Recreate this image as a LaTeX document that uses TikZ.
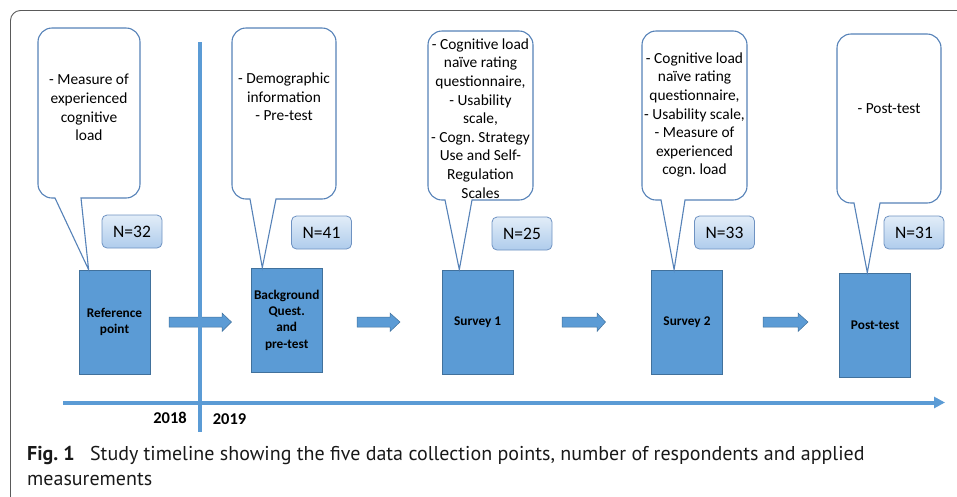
\documentclass[tikz,border=0pt]{standalone}
\usepackage{fontspec}
\setmainfont{Carlito}
\newfontfamily\capfont{PT Sans}
\usetikzlibrary{arrows.meta,calc}
\frenchspacing

\definecolor{lineblue}{HTML}{5B9BD5}
\definecolor{stageedge}{HTML}{41719C}
\definecolor{bubbleedge}{HTML}{5682B8}
\definecolor{countedge}{HTML}{6E92C2}
\definecolor{counttop}{HTML}{E2EDF8}
\definecolor{countbot}{HTML}{AFCCEC}
\definecolor{framegray}{HTML}{5A5A5A}

% speech bubble: body (x1,y1)-(x2,y2), tail base a..b on the lower edge, tail tip
\newcommand\bubble[7]{%
  \draw[bubbleline] (#5,#4) -- #7 -- (#6,#4) [rounded corners=14pt]
    -- (#3,#4) -- (#3,#2) -- (#1,#2) -- (#1,#4) [sharp corners] -- cycle;}
% block arrow between stages: start, head base, tip
\newcommand\blockarrow[3]{%
  \filldraw[fill=lineblue, draw=stageedge, line width=0.5pt]
    (#1,317) -- (#2,317) -- (#2,313) -- (#3,322) -- (#2,331.5) -- (#2,327) -- (#1,327) -- cycle;}

\tikzset{
  bubbleline/.style={draw=bubbleedge, line width=1.1pt, fill=white},
  bubbletext/.style={align=center, inner sep=0pt, font=\fontsize{15.4}{18.6}\selectfont},
  stage/.style={draw=stageedge, line width=0.8pt, fill=lineblue, align=center,
    minimum width=71pt, minimum height=104pt, inner sep=1pt,
    font=\bfseries\fontsize{13.3}{16.3}\selectfont},
  count/.style={draw=countedge, line width=0.8pt, rounded corners=5pt,
    top color=counttop, bottom color=countbot, minimum width=60pt, minimum height=33pt,
    inner sep=0pt, font=\fontsize{17.5}{20}\selectfont},
  axisline/.style={draw=lineblue, line width=4pt},
  year/.style={font=\bfseries\fontsize{16.5}{18}\selectfont, inner sep=0pt},
}

\begin{document}
\begin{tikzpicture}[x=1pt, y=-1pt]
\useasboundingbox (0,0) rectangle (957,496);

% frame
\draw[framegray, line width=0.9pt, rounded corners=10pt] (10.5,500) -- (10.5,10.5) -- (960,10.5);

% stages
\node[stage] (ref)  at (114.5,322) {Reference\\point};
\node[stage] (bg)   at (286.7,320) {Background\\Quest.\\and\\pre-test};
\node[stage] (s1)   at (477.7,322) {Survey 1};
\node[stage] (s2)   at (687,322)   {Survey 2};
\node[stage] (post) at (875.2,325) {Post-test};

% tail tips on the top edges of the stages
\coordinate (t1) at ($(ref.north west)+(10,0)$);
\coordinate (t2) at ($(bg.north west)+(11.5,0)$);
\coordinate (t3) at ($(s1.north west)+(17.5,0)$);
\coordinate (t4) at ($(s2.north west)+(23,0)$);
\coordinate (t5) at ($(post.north west)+(28,0)$);

% bubbles
\bubble{38}{28}{140}{198}{55}{81}{(t1)}
\bubble{232}{28}{336}{199}{250}{276}{(t2)}
\bubble{428}{31}{533}{200}{445}{472}{(t3)}
\bubble{642}{31}{747}{200}{661}{685}{(t4)}
\bubble{837}{34}{941}{203}{854}{880}{(t5)}

\node[bubbletext] (b1) at (89,107.5) {- Measure of\\experienced\\cognitive\\load};
\node[bubbletext] (b2) at (284,97) {- Demographic\\information\\- Pre-test};
\node[bubbletext] (b3) at (480.5,118.5) {- Cognitive load\\na\"ive rating\\questionnaire,\\- Usability\\scale,\\- Cogn. Strategy\\Use and Self-\\Regulation\\Scales};
\node[bubbletext] (b4) at (694.5,115) {- Cognitive load\\na\"ive rating\\questionnaire,\\- Usability scale,\\- Measure of\\experienced\\cogn. load};
\node[bubbletext] (b5) at (889,109) {- Post-test};

% respondent counts
\node[count] (n1) at (132,231.5) {N=32};
\node[count] (n2) at (321.5,232.5) {N=41};
\node[count] (n3) at (522,233.5) {N=25};
\node[count] (n4) at (724.5,232.5) {N=33};
\node[count] (n5) at (914,232.5) {N=31};

% arrows between stages
\blockarrow{169}{222}{231.5}
\blockarrow{357}{390}{400}
\blockarrow{562}{597}{605.5}
\blockarrow{763}{798}{808}

% time axis and year divider
\draw[axisline, -{Triangle[length=11pt,width=11pt]}] (63,402.5) -- (945,402.5);
\draw[axisline] (199.5,42) -- (199.5,432);
\node[year] (y18) at (170,418) {2018};
\node[year] (y19) at (229.5,419) {2019};

% caption, two lines set as separate rows
\node[anchor=base west, inner sep=0pt, font=\capfont\fontsize{20}{25.5}\selectfont, text=black!90]
  (cap1) at (27,460) {{\bfseries Fig. 1}\hspace{10pt} Study timeline showing the five data collection points, number of respondents and applied};
\node[anchor=base west, inner sep=0pt, font=\capfont\fontsize{20}{25.5}\selectfont, text=black!90]
  (cap2) at (27,485.5) {measurements};
\end{tikzpicture}
\end{document}
